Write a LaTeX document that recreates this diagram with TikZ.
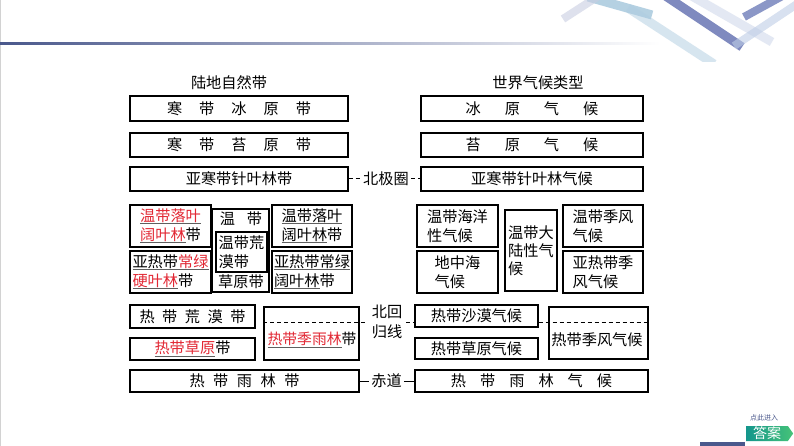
\documentclass[tikz,border=0pt]{standalone}
\usepackage{fontspec}
\setmainfont{Noto Sans CJK SC}
\usetikzlibrary{shapes.symbols}
\definecolor{redtxt}{RGB}{226,40,52}
\definecolor{ulgray}{RGB}{95,95,95}
\definecolor{hdrblue}{RGB}{74,88,140}
\newcommand\rt[1]{\textcolor{redtxt}{#1}}
\newcommand\ulx[1]{\setbox0\hbox{#1}\rlap{\color{ulgray}\rule[-3pt]{\wd0}{1.1pt}}\box0}
\newcommand\fs{\fontsize{15.2}{19}\selectfont}
\begin{document}
\begin{tikzpicture}[x=1pt,y=-1pt,
  box/.style={draw, line width=1.1pt, inner sep=0pt, fill=white, font=\fs, align=left},
  txt/.style={font=\fs, inner sep=0pt},
  dashline/.style={line width=1pt, dash pattern=on 4pt off 3pt},
  solidline/.style={line width=1pt}]
\useasboundingbox (0,0) rectangle (794,446);
\fill[white] (0,0) rectangle (794,446);

% ---------- header decoration ----------
\draw[gray!35, line width=0.8pt] (0.4,0) -- (0.4,446);
\shade[left color=hdrblue, right color=white] (0,43) rectangle (660,45);
\begin{scope}
  \clip (540,0) rectangle (794,62);
  \draw[line width=9pt, color={rgb,255:red,150;green,190;blue,215}, opacity=0.7] (588,-3) -- (652,15);
  \draw[line width=9pt, color={rgb,255:red,175;green,205;blue,225}, opacity=0.5] (628,8) -- (714,64);
  \draw[line width=8pt, color={rgb,255:red,200;green,205;blue,225}, opacity=0.6] (563,19) -- (597,-3);
  \draw[line width=9pt, color={rgb,255:red,200;green,210;blue,232}, opacity=0.5] (690,-5) -- (772,42);
  \draw[line width=9pt, color={rgb,255:red,105;green,118;blue,180}, opacity=0.85] (664,-5) -- (742,47);
  \draw[line width=8pt, color={rgb,255:red,110;green,125;blue,185}, opacity=0.8] (744,17) -- (786,-6);
  \draw[line width=8pt, color={rgb,255:red,190;green,205;blue,230}, opacity=0.6] (734,46) -- (800,2);
\end{scope}

% ---------- titles ----------
\node[txt] (t1) at (229,83) {陆地自然带};
\node[txt] (t2) at (538,83) {世界气候类型};

% ---------- upper rows ----------
\node[box, minimum width=218pt, minimum height=25pt] (l1) at (239,108.5)
  {寒\hspace{17pt}带\hspace{17pt}冰\hspace{17pt}原\hspace{17pt}带};
\node[box, minimum width=218pt, minimum height=24pt] (l2) at (239,145)
  {寒\hspace{17pt}带\hspace{17pt}苔\hspace{17pt}原\hspace{17pt}带};
\node[box, minimum width=218pt, minimum height=24pt] (l3) at (239,179) {亚寒带针叶林带};

\node[box, minimum width=222pt, minimum height=25pt] (r1) at (532,108.5)
  {冰\hspace{24pt}原\hspace{24pt}气\hspace{24pt}候};
\node[box, minimum width=222pt, minimum height=24pt] (r2) at (532,145)
  {苔\hspace{24pt}原\hspace{24pt}气\hspace{24pt}候};
\node[box, minimum width=222pt, minimum height=24pt] (r3) at (532,179) {亚寒带针叶林气候};

\node[txt, inner sep=2pt] (bjq) at (386,179) {北极圈};
\draw[dashline] (l3.east) -- (bjq.west);
\draw[dashline] (bjq.east) -- (r3.west);

% ---------- middle left ----------
\node[box, minimum width=81pt, minimum height=42pt] (m1) at (170.5,226)
  {\ulx{\rt{温带落叶}}\\\ulx{\rt{阔叶林}}带};
\node[box, minimum width=81pt, minimum height=42pt] (m2) at (170.5,272)
  {\ulx{亚热带\rt{常绿}}\\\ulx{\rt{硬叶林}}带};
\node[box, minimum width=57pt, minimum height=83pt] (m3) at (240.5,250.5) {};
\node[txt] (m3a) at (241,219) {温\hspace{12pt}带};
\node[box, minimum width=51pt, minimum height=40pt] (m3b) at (241.5,252) {温带荒\\漠带};
\node[txt] (m3c) at (241,282) {草原带};
\node[box, minimum width=80pt, minimum height=42pt] (m4) at (312,226)
  {\ulx{温带落叶}\\\ulx{阔叶林}带};
\node[box, minimum width=80pt, minimum height=42pt] (m5) at (312,272)
  {\ulx{亚热带常绿}\\\ulx{阔叶林}带};

% ---------- middle right ----------
\node[box, minimum width=81pt, minimum height=42pt] (n1) at (457.5,226) {温带海洋\\性气候};
\node[box, minimum width=81pt, minimum height=42pt] (n2) at (457.5,272) {地中海\\气候};
\node[box, minimum width=52pt, minimum height=81pt, font=\fontsize{15.2}{18}\selectfont] (n3) at (531,250.5) {温带大\\陆性气\\候};
\node[box, minimum width=80pt, minimum height=42pt] (n4) at (603,226) {温带季风\\气候};
\node[box, minimum width=80pt, minimum height=42pt] (n5) at (603,272) {亚热带季\\风气候};

% ---------- lower left ----------
\node[box, minimum width=125pt, minimum height=23pt] (b1) at (192.5,316.5)
  {热\hspace{7.5pt}带\hspace{7.5pt}荒\hspace{7.5pt}漠\hspace{7.5pt}带};
\node[box, minimum width=125pt, minimum height=22pt] (b2) at (192.5,349) {\ulx{\rt{热带草原}}带};
\node[box, minimum width=95pt, minimum height=53pt, fill=none] (b3) at (311.5,333.5) {};
\node[txt, font=\fontsize{14.8}{18}\selectfont] (b3t) at (312,340) {\ulx{\rt{热带季雨林}}带};
\node[box, minimum width=229pt, minimum height=22pt] (b4) at (244.5,381)
  {热\hspace{8.5pt}带\hspace{8.5pt}雨\hspace{8.5pt}林\hspace{8.5pt}带};

% ---------- lower right ----------
\node[box, minimum width=123pt, minimum height=22pt] (c1) at (476.5,316) {热带沙漠气候};
\node[box, minimum width=123pt, minimum height=21pt] (c2) at (476.5,348.5) {热带草原气候};
\node[box, minimum width=99pt, minimum height=52pt, fill=none] (c3) at (598.5,333) {};
\node[txt] (c3t) at (597,340) {热带季风气候};
\node[box, minimum width=233pt, minimum height=22pt] (c4) at (531.5,381)
  {热\hspace{14pt}带\hspace{14pt}雨\hspace{14pt}林\hspace{14pt}气\hspace{14pt}候};

% ---------- Tropic of Cancer & Equator ----------
\node[txt, inner sep=4pt, align=center, font=\fontsize{15.2}{20}\selectfont] (hgx) at (387,322) {北回\\归线};
\coordinate (tcL) at (b3.west |- hgx);
\coordinate (tcR) at (c3.east |- hgx);
\draw[dashline] (tcL) -- (hgx.west);
\draw[dashline] (hgx.east) -- (c1.west |- hgx);
\draw[dashline] (c1.east |- hgx) -- (tcR);

\node[txt, inner sep=2pt] (cd) at (386.5,381) {赤道};
\draw[solidline] (b4.east) -- (cd.west);
\draw[solidline] (cd.east) -- (c4.west);

% ---------- answer button ----------
\fill[hdrblue] (700,442) rectangle (745,446);
\node[font=\fontsize{7}{8}\selectfont, text=hdrblue, inner sep=0pt] (btn1) at (764,418) {点此进入};
\node[signal, signal to=east, signal pointer angle=110, minimum width=47pt, minimum height=15pt,
  inner sep=0pt, left color={rgb,255:red,20;green,150;blue,140}, right color={rgb,255:red,70;green,195;blue,120},
  text=white, font=\fontsize{14}{15}\selectfont] (btn2) at (767,433.5) {答案};
\end{tikzpicture}
\end{document}
